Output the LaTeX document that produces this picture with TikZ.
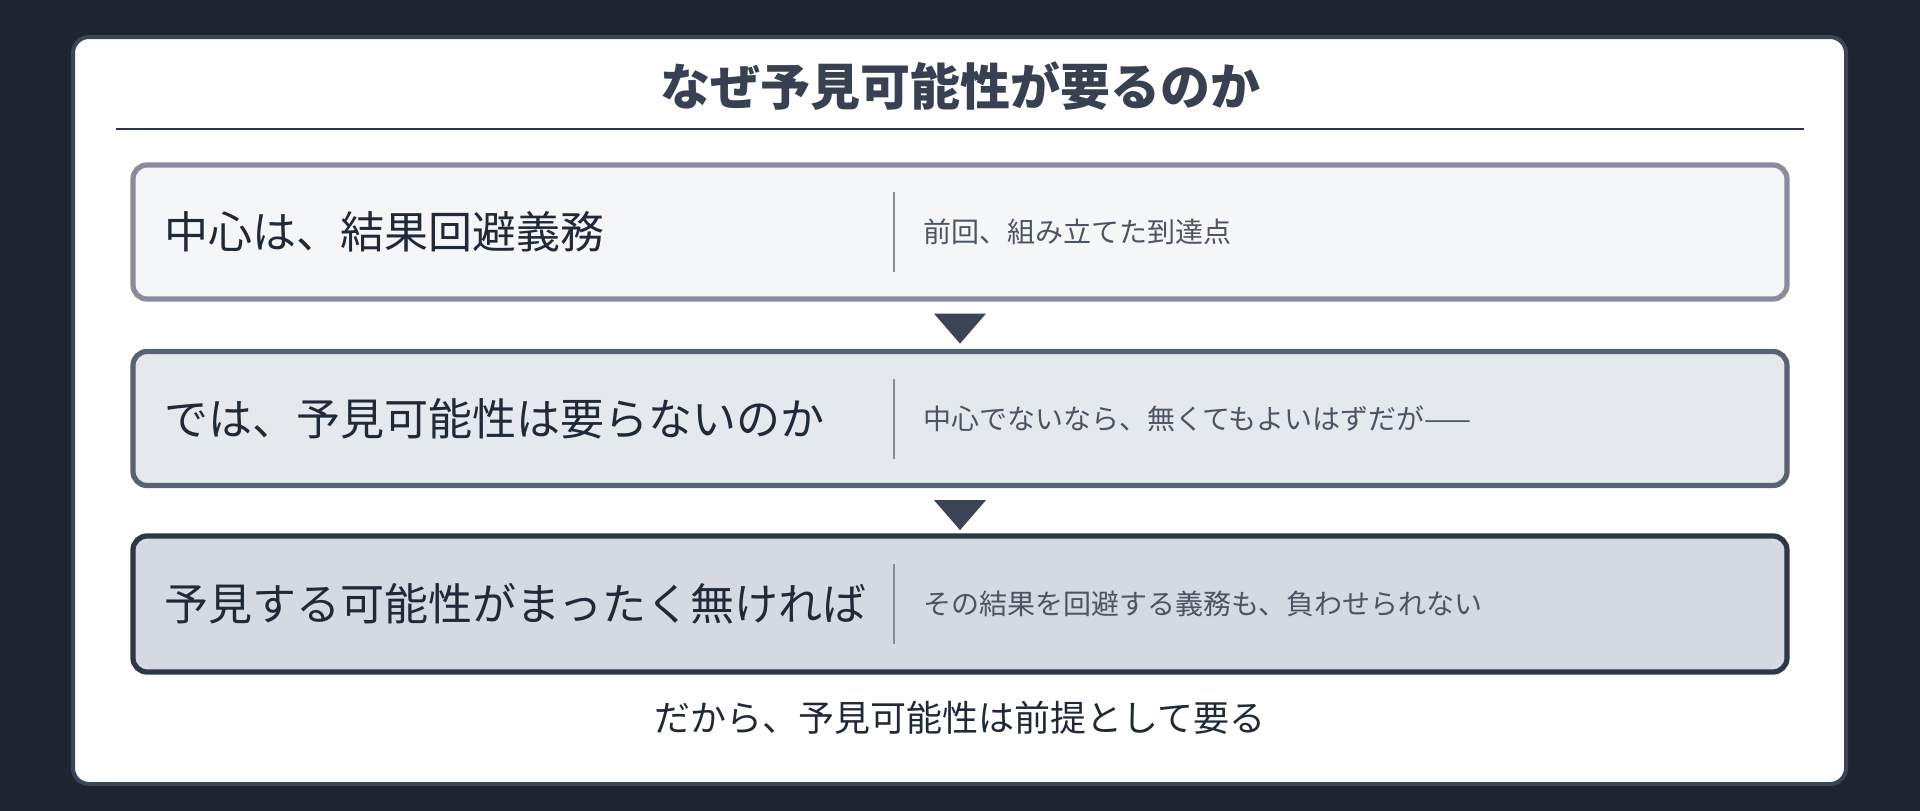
\documentclass[tikz,border=0pt]{standalone}
\usepackage{fontspec}
\newfontfamily\jp{Noto Sans CJK JP}
\usetikzlibrary{calc}
\definecolor{bgdark}{HTML}{1E2530}
\definecolor{cardedge}{HTML}{3B4555}
\definecolor{titlec}{HTML}{374151}
\definecolor{rulec}{HTML}{2D3645}
\definecolor{fillA}{HTML}{F5F6F8}
\definecolor{edgeA}{HTML}{858D9B}
\definecolor{fillB}{HTML}{E5E8ED}
\definecolor{edgeB}{HTML}{586272}
\definecolor{fillC}{HTML}{D5D9E1}
\definecolor{edgeC}{HTML}{2D3645}
\definecolor{maintext}{HTML}{1F2937}
\definecolor{subtext}{HTML}{4B5563}
\definecolor{divc}{HTML}{858D9B}
\definecolor{arrowc}{HTML}{3B4555}
\begin{document}
\begin{tikzpicture}[x=1pt,y=-1pt,
  stepbox/.style={draw, line width=5.2pt, rounded corners=14pt, minimum width=1654pt, inner sep=0pt},
  mainlbl/.style={anchor=west, inner sep=0pt, text=maintext, font=\jp\fontsize{44}{52}\selectfont},
  sublbl/.style={anchor=west, inner sep=0pt, text=subtext, font=\jp\fontsize{28}{34}\selectfont},
  divline/.style={draw=divc, line width=2pt},
  tri/.style={fill=arrowc}
]
\useasboundingbox (0,0) rectangle (1920,811);
\fill[bgdark] (0,0) rectangle (1920,811);
\draw[fill=white, draw=cardedge, line width=4pt, rounded corners=16pt] (73,37) rectangle (1846,784);
\node[inner sep=0pt, text=titlec, font=\jp\bfseries\fontsize{50}{60}\selectfont] (title) at (960,86) {なぜ予見可能性が要るのか};
\coordinate (ruleL) at (116,129);
\coordinate (ruleR) at (1804,129);
\draw[rulec, line width=2.5pt] (ruleL) -- (ruleR);

\node[stepbox, fill=fillA, draw=edgeA, minimum height=134pt] (b1) at (960,232) {};
\node[stepbox, fill=fillB, draw=edgeB, minimum height=134pt] (b2) at (960,418.5) {};
\node[stepbox, fill=fillC, draw=edgeC, minimum height=136pt] (b3) at (960,604) {};

\node[mainlbl] (m1) at ($(b1.west)+(34,0)$) {中心は、結果回避義務};
\node[mainlbl] (m2) at ($(b2.west)+(34,0)$) {では、予見可能性は要らないのか};
\node[mainlbl] (m3) at ($(b3.west)+(34,0)$) {予見する可能性がまったく無ければ};

\draw[divline] ($(b1.center)+(-66,-40)$) -- ($(b1.center)+(-66,40)$);
\draw[divline] ($(b2.center)+(-66,-40)$) -- ($(b2.center)+(-66,40)$);
\draw[divline] ($(b3.center)+(-66,-40)$) -- ($(b3.center)+(-66,40)$);

\node[sublbl] (s1) at ($(b1.center)+(-37,0)$) {前回、組み立てた到達点};
\node[sublbl] (s2) at ($(b2.center)+(-37,0)$) {中心でないなら、無くてもよいはずだが——};
\node[sublbl] (s3) at ($(b3.center)+(-37,0)$) {その結果を回避する義務も、負わせられない};

\fill[tri] ($(b1.south)+(-26,12)$) -- ($(b1.south)+(26,12)$) -- ($(b1.south)+(0,42)$) -- cycle;
\fill[tri] ($(b2.south)+(-26,12)$) -- ($(b2.south)+(26,12)$) -- ($(b2.south)+(0,42)$) -- cycle;

\node[inner sep=0pt, text=maintext, font=\jp\fontsize{36}{44}\selectfont] (concl) at (960,718) {だから、予見可能性は前提として要る};
\end{tikzpicture}
\end{document}
